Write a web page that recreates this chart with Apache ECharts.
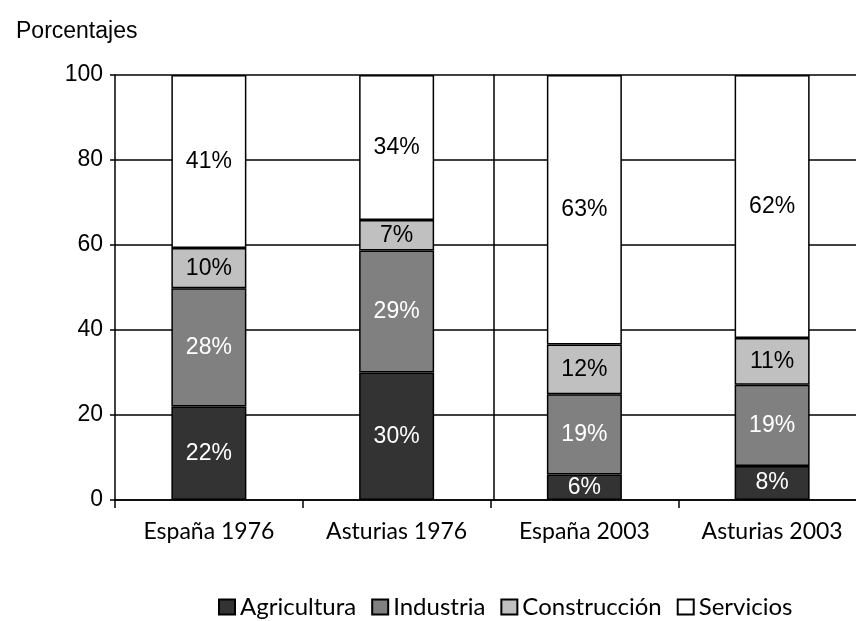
<!DOCTYPE html>
<html>
<head>
<meta charset="utf-8">
<script src="https://cdn.jsdelivr.net/npm/echarts@6/dist/echarts.min.js"></script>
<style>
  html, body { margin: 0; padding: 0; background: #fff; }
  #chart { width: 856px; height: 621px; }
</style>
</head>
<body>
<div id="chart"></div>
<script>
// categorias y porcentajes
var categorias = ['España 1976', 'Asturias 1976', 'España 2003', 'Asturias 2003'];
var agricultura = [22, 30, 6, 8];
var industria = [27.8, 28.7, 18.9, 19.1];
var construccion = [9.5, 7.2, 11.7, 11];
var servicios = [40.7, 34.1, 63.4, 61.9];
var yTicks = [0, 20, 40, 60, 80, 100];

var chart = echarts.init(document.getElementById('chart'));

function serie(nombre, datos, color, textColor) {
    return {
        name: nombre,
        type: 'bar',
        stack: 'total',
        barWidth: 75,
        data: datos,
        itemStyle: {
            color: color,
            borderColor: '#000',
            borderWidth: 1.5
        },
        label: {
            show: true,
            position: 'inside',
            color: textColor,
            fontFamily: 'Liberation Sans',
            fontSize: 23,
            formatter: function (p) {
                return Math.round(p.value) + '%';
            }
        }
    };
}

chart.setOption({
    animation: false,
    backgroundColor: '#fff',
    title: {
        text: 'Porcentajes',
        left: 11,
        top: 15,
        textStyle: {
            fontFamily: 'Liberation Sans',
            fontSize: 23,
            fontWeight: 'normal',
            color: '#000'
        }
    },
    grid: {
        left: 115,
        width: 751,
        top: 75,
        height: 425,
        outerBoundsMode: 'none'
    },
    legend: {
        left: 213,
        top: 590,
        itemWidth: 16,
        itemHeight: 15,
        itemGap: 15,
        icon: 'rect',
        textStyle: {
            fontFamily: 'Lato',
            fontSize: 24,
            color: '#000'
        },
        data: ['Agricultura', 'Industria', 'Construcción', 'Servicios']
    },
    xAxis: {
        type: 'category',
        data: categorias,
        axisLine: { lineStyle: { color: '#000', width: 1.5 } },
        axisTick: { show: true, length: 8, lineStyle: { color: '#000', width: 1.5 } },
        axisLabel: {
            margin: 20,
            fontFamily: 'Lato',
            fontSize: 23,
            color: '#000'
        }
    },
    yAxis: [
        {
            type: 'value',
            min: yTicks[0],
            max: yTicks[yTicks.length - 1],
            interval: 20,
            axisLine: { show: true, lineStyle: { color: '#000', width: 1.5 } },
            axisTick: { show: true, length: 5, lineStyle: { color: '#000', width: 1.5 } },
            splitLine: { show: true, lineStyle: { color: '#000', width: 1.5 } },
            axisLabel: {
                margin: 12,
                fontFamily: 'Liberation Sans',
                fontSize: 23,
                color: '#000'
            }
        },
        {
            // separador entre los dos graficos
            type: 'value',
            position: 'left',
            offset: -379,
            min: 0,
            max: 100,
            axisLine: { show: true, lineStyle: { color: '#000', width: 1.5 } },
            axisTick: { show: false },
            axisLabel: { show: false },
            splitLine: { show: false }
        }
    ],
    series: [
        serie('Agricultura', agricultura, '#333333', '#fff'),
        serie('Industria', industria, '#808080', '#fff'),
        serie('Construcción', construccion, '#c0c0c0', '#000'),
        serie('Servicios', servicios, '#ffffff', '#000')
    ]
});
</script>
</body>
</html>
